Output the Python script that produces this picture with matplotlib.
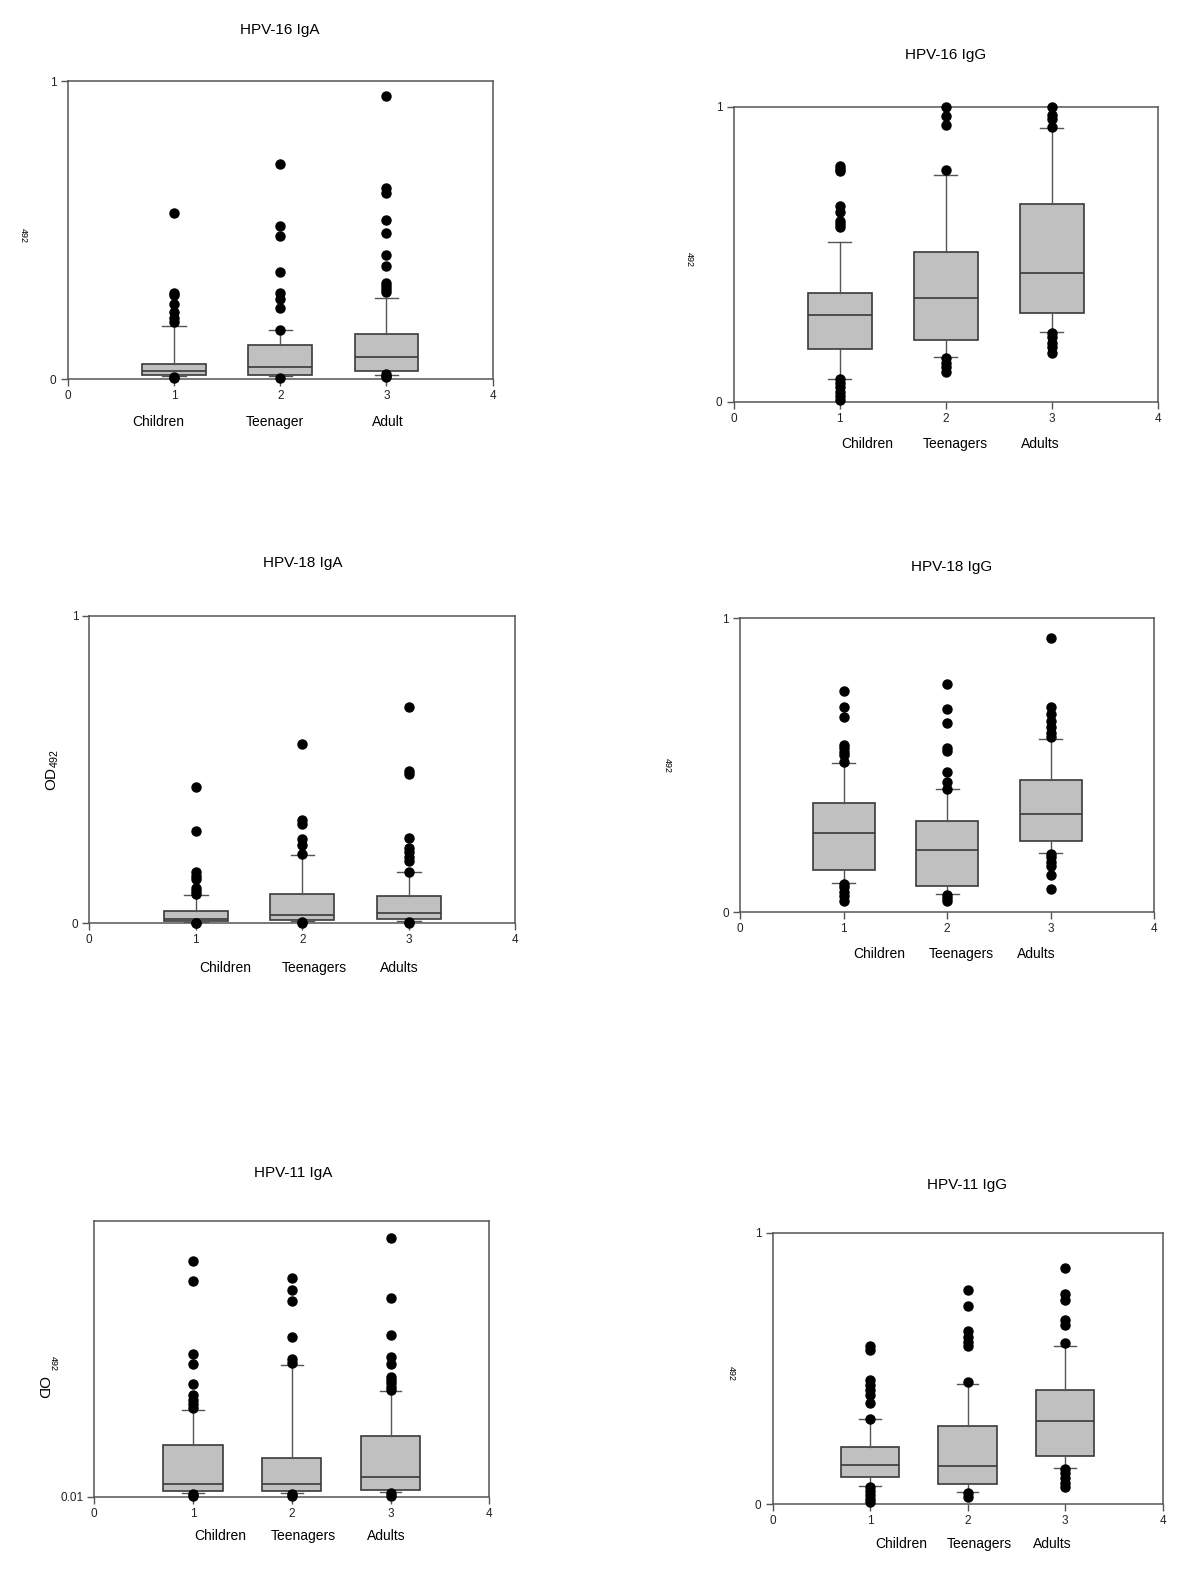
import matplotlib
matplotlib.use('Agg')
import matplotlib.pyplot as plt
import matplotlib.transforms as mtransforms

plt.rcParams['font.family'] = ['Liberation Sans', 'DejaVu Sans']
plt.rcParams['mathtext.fontset'] = 'custom'
plt.rcParams['mathtext.rm'] = 'Liberation Sans'
plt.rcParams['mathtext.it'] = 'Liberation Sans'

W, H = 1200, 1582

# box stats per group: (whisker low, q1, median, q3, whisker high)
hpv16_iga_box = [(0.011, 0.013, 0.027, 0.051, 0.180),
                 (0.011, 0.0145, 0.041, 0.114, 0.164),
                 (0.016, 0.027, 0.075, 0.153, 0.272)]
hpv16_iga_out = [[0.559, 0.290, 0.283, 0.254, 0.226, 0.204, 0.191, 0.007, 0.003],
                 [0.721, 0.515, 0.482, 0.359, 0.288, 0.268, 0.240, 0.164, 0.006],
                 [0.951, 0.640, 0.623, 0.535, 0.491, 0.418, 0.381, 0.324, 0.313,
                  0.302, 0.294, 0.018, 0.011, 0.007]]

hpv16_igg_box = [(0.078, 0.179, 0.293, 0.368, 0.540),
                 (0.150, 0.208, 0.353, 0.508, 0.769),
                 (0.237, 0.302, 0.435, 0.669, 0.927)]
hpv16_igg_out = [[0.799, 0.790, 0.782, 0.664, 0.642, 0.612, 0.601, 0.591,
                  0.076, 0.062, 0.050, 0.034, 0.019, 0.006],
                 [1.0, 0.969, 0.939, 0.784, 0.147, 0.132, 0.119, 0.102],
                 [1.0, 0.972, 0.957, 0.932, 0.234, 0.218, 0.200, 0.186, 0.164]]

hpv18_iga_box = [(0.003, 0.0087, 0.014, 0.039, 0.092),
                 (0.0076, 0.011, 0.027, 0.0965, 0.223),
                 (0.0065, 0.013, 0.0325, 0.089, 0.166)]
hpv18_iga_out = [[0.445, 0.300, 0.166, 0.155, 0.143, 0.114, 0.105, 0.095, 0.002, 0.0],
                 [0.584, 0.336, 0.323, 0.273, 0.255, 0.225, 0.004, 0.0],
                 [0.705, 0.496, 0.486, 0.278, 0.244, 0.231, 0.215, 0.202, 0.168,
                  0.004, 0.0]]

hpv18_igg_box = [(0.101, 0.143, 0.270, 0.371, 0.507),
                 (0.061, 0.091, 0.212, 0.311, 0.418),
                 (0.202, 0.244, 0.336, 0.451, 0.588)]
hpv18_igg_out = [[0.752, 0.698, 0.663, 0.569, 0.558, 0.546, 0.535, 0.510,
                  0.096, 0.085, 0.070, 0.057, 0.039],
                 [0.776, 0.690, 0.645, 0.560, 0.549, 0.478, 0.443, 0.418,
                  0.059, 0.050, 0.039],
                 [0.932, 0.697, 0.675, 0.652, 0.629, 0.611, 0.595,
                  0.198, 0.187, 0.172, 0.158, 0.127, 0.080]]

hpv11_iga_box = [(0.0244, 0.0292, 0.0555, 0.194, 0.320),
                 (0.0244, 0.029, 0.054, 0.148, 0.484),
                 (0.0256, 0.034, 0.082, 0.228, 0.390)]
hpv11_iga_out = [[0.856, 0.783, 0.521, 0.485, 0.416, 0.374, 0.357, 0.343, 0.330,
                  0.0196, 0.012],
                 [0.797, 0.753, 0.713, 0.585, 0.504, 0.489, 0.0196, 0.012],
                 [0.940, 0.723, 0.591, 0.513, 0.485, 0.441, 0.429, 0.417, 0.405,
                  0.393, 0.022, 0.013]]

hpv11_igg_box = [(0.0675, 0.101, 0.146, 0.212, 0.313),
                 (0.045, 0.0736, 0.142, 0.290, 0.443),
                 (0.134, 0.179, 0.306, 0.420, 0.583)]
hpv11_igg_out = [[0.583, 0.567, 0.458, 0.439, 0.421, 0.402, 0.372, 0.315,
                  0.0626, 0.050, 0.034, 0.018, 0.010],
                 [0.789, 0.731, 0.638, 0.617, 0.599, 0.583, 0.452, 0.043, 0.028],
                 [0.871, 0.774, 0.752, 0.679, 0.660, 0.593,
                  0.131, 0.114, 0.096, 0.080, 0.063]]

titles = ['HPV-16 IgA', 'HPV-16 IgG', 'HPV-18 IgA', 'HPV-18 IgG', 'HPV-11 IgA', 'HPV-11 IgG']
groups_a = ['Children', 'Teenager', 'Adult']
groups_b = ['Children', 'Teenagers', 'Adults']

# layout in pixels: (left, right, top, bottom)
panels = [
    (hpv16_iga_box, hpv16_iga_out, (67.7, 492.7, 81, 379.3), (280, 30), groups_a,
     [0.85, 1.95, 3.01], 421.7, (0, 1)),
    (hpv16_igg_box, hpv16_igg_out, (733.7, 1157.7, 106.7, 401.7), (946, 55.5), groups_b,
     [1.26, 2.09, 2.89], 444, (0, 1)),
    (hpv18_iga_box, hpv18_iga_out, (89.3, 515.3, 616, 923.3), (303, 563), groups_b,
     [1.28, 2.11, 2.91], 967.7, (0, 1)),
    (hpv18_igg_box, hpv18_igg_out, (740, 1154.3, 618.3, 912.3), (952, 567), groups_b,
     [1.34, 2.14, 2.86], 954, (0, 1)),
    (hpv11_iga_box, hpv11_iga_out, (94.3, 489.3, 1221, 1496.7), (293, 1173), groups_b,
     [1.28, 2.12, 2.96], 1536, (0.01, 1)),
    (hpv11_igg_box, hpv11_igg_out, (772.7, 1162.7, 1232.7, 1504.3), (967, 1185), groups_b,
     [1.32, 2.12, 2.87], 1544, (0, 1)),
]

fig = plt.figure(figsize=(W / 100, H / 100), dpi=100)

box_edge = '#3a3a3a'
for i, (box, out, (l, r, t, b), (tx, ty), labels, lab_x, lab_y, ylim) in enumerate(panels):
    ax = fig.add_axes([l / W, 1 - b / H, (r - l) / W, (b - t) / H])
    stats = []
    for (lo, q1, med, q3, hi), fl in zip(box, out):
        stats.append({'whislo': lo, 'q1': q1, 'med': med, 'q3': q3, 'whishi': hi, 'fliers': fl})
    parts = ax.bxp(stats, positions=[1, 2, 3], widths=0.6, capwidths=0.22, patch_artist=True,
                   manage_ticks=False,
                   boxprops=dict(facecolor='#c0c0c0', edgecolor=box_edge, linewidth=1.2),
                   medianprops=dict(color=box_edge, linewidth=1.2),
                   whiskerprops=dict(color='#555555', linewidth=1.0),
                   capprops=dict(color='#555555', linewidth=1.0),
                   flierprops=dict(marker='o', markerfacecolor='black', markeredgecolor='black',
                                   markersize=6.5, linestyle='none'))
    for fl in parts['fliers']:
        fl.set_clip_on(False)
        fl.set_zorder(5)
    ax.set_xlim(0, 4)
    ax.set_ylim(*ylim)
    ax.set_xticks([0, 1, 2, 3, 4])
    ax.set_xticklabels(['0', '1', '2', '3', '4'])
    if ylim[0] == 0.01:
        ax.set_yticks([0.01])
        ax.set_yticklabels(['0.01'])
    else:
        ax.set_yticks([0, 1])
        ax.set_yticklabels(['0', '1'])
    ax.tick_params(direction='out', length=5, width=1, color='#555555',
                   labelsize=8.5, labelcolor='#222222', pad=3)
    for s in ax.spines.values():
        s.set_color('#555555')
        s.set_linewidth(1.1)

    fig.text(tx / W, 1 - ty / H, titles[i], fontsize=11, ha='center', va='center')
    trans = mtransforms.blended_transform_factory(ax.transData, fig.transFigure)
    for name, x in zip(labels, lab_x):
        ax.text(x, 1 - lab_y / H, name, transform=trans, fontsize=10,
                ha='center', va='center', clip_on=False)

# y axis labels
fig.text(23 / W, 1 - 235 / H, '492', fontsize=6.5, rotation=270, ha='center', va='center')
fig.text(689 / W, 1 - 260 / H, '492', fontsize=6.5, rotation=270, ha='center', va='center')
fig.text(52.7 / W, 1 - 770 / H, r'OD$_{492}$', fontsize=11, rotation=90, ha='center', va='center')
fig.text(667 / W, 1 - 766 / H, '492', fontsize=6.5, rotation=270, ha='center', va='center')
fig.text(42.7 / W, 1 - 1387 / H, 'OD', fontsize=11, rotation=270, ha='center', va='center')
fig.text(53 / W, 1 - 1363 / H, '492', fontsize=6.5, rotation=270, ha='center', va='center')
fig.text(731.7 / W, 1 - 1373 / H, '492', fontsize=6.5, rotation=270, ha='center', va='center')

fig.savefig('out.png', dpi=100)
